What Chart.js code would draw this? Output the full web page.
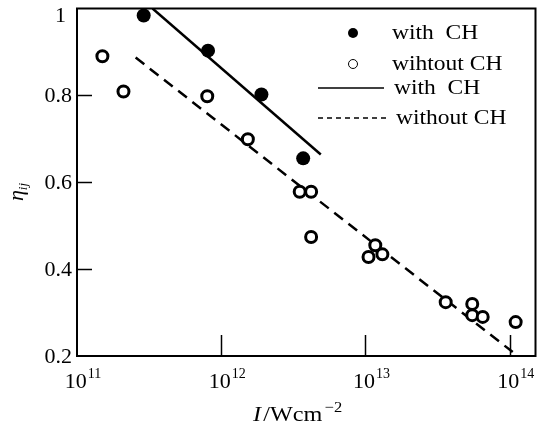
<!DOCTYPE html>
<html><head><meta charset="utf-8">
<script src="https://cdn.jsdelivr.net/npm/chart.js@4/dist/chart.umd.min.js"></script>
<style>html,body{margin:0;padding:0;background:#fff}#wrap{width:544px;height:430px}</style>
</head><body><div id="wrap"><canvas id="c" width="544" height="430"></canvas></div>
<script>
// ---- data ----
const withCH_I = [2.9e11, 8.1e11, 1.9e12, 3.7e12];
const withCH_eta = [0.984, 0.903, 0.802, 0.655];

const withoutCH_I = [1.5e11, 2.1e11, 8.0e11, 1.53e12, 3.5e12, 4.2e12, 4.2e12, 1.05e13, 1.17e13, 1.31e13, 3.6e13, 5.5e13, 5.5e13, 6.5e13, 1.1e14];
const withoutCH_eta = [0.89, 0.809, 0.798, 0.699, 0.578, 0.578, 0.474, 0.428, 0.455, 0.434, 0.324, 0.32, 0.294, 0.29, 0.278];

const fitWith_I = [3.34e11, 4.9e12];
const fitWith_eta = [1.0, 0.664];
const fitWithout_I = [2.55e11, 1.05e14];
const fitWithout_eta = [0.887, 0.209];

const xTickValues = [1e11, 1e12, 1e13, 1e14];
const xTickExponents = ['11', '12', '13', '14'];
const yTickValues = [0.2, 0.4, 0.6, 0.8, 1.0];
const yTickLabels = ['0.2', '0.4', '0.6', '0.8', '1'];

const legendLabels = ['with  CH', 'wihtout CH', 'with  CH', 'without CH'];
const xTitleMain = ['I', '/Wcm'];
const xTitleSup = '\u22122';
const yTitleMain = '\u03B7';
const yTitleSub = 'ij';

const pts = (xs, ys) => xs.map((v, i) => ({x: v, y: ys[i]}));
const SERIF = '"Liberation Serif", "Times New Roman", serif';

const decor = {
  id: 'decor',
  beforeDatasetsDraw(chart) {
    const {ctx, chartArea: a, scales: {x, y}} = chart;
    ctx.save();
    ctx.strokeStyle = '#000';
    ctx.lineWidth = 1.5;
    yTickValues.forEach(v => {
      if (v <= 0.2 || v >= 1) return;
      const py = Math.round(y.getPixelForValue(v)) + 0.5;
      ctx.beginPath(); ctx.moveTo(a.left, py); ctx.lineTo(a.left + 15, py); ctx.stroke();
    });
    xTickValues.forEach(v => {
      const px = Math.round(x.getPixelForValue(v)) + 0.5;
      if (px <= a.left + 2) return;
      ctx.beginPath(); ctx.moveTo(px, a.bottom); ctx.lineTo(px, a.bottom - 21); ctx.stroke();
    });
    ctx.restore();
  },
  afterDraw(chart) {
    const {ctx, chartArea: a, scales: {x, y}} = chart;
    ctx.save();
    // frame
    ctx.strokeStyle = '#000';
    ctx.lineWidth = 2;
    ctx.strokeRect(a.left, a.top, a.right - a.left, a.bottom - a.top);
    ctx.fillStyle = '#000';
    // y tick labels
    ctx.font = '22px ' + SERIF;
    ctx.textAlign = 'right';
    ctx.textBaseline = 'middle';
    yTickValues.forEach((v, i) => {
      const py = y.getPixelForValue(v);
      if (v >= 1) ctx.fillText(yTickLabels[i], a.left - 11, py + 8);
      else ctx.fillText(yTickLabels[i], a.left - 5, py + 1);
    });
    // x tick labels with superscript
    ctx.textAlign = 'left';
    ctx.textBaseline = 'alphabetic';
    xTickValues.forEach((v, i) => {
      const px = x.getPixelForValue(v);
      ctx.font = '22px ' + SERIF;
      const w1 = ctx.measureText('10').width;
      ctx.font = '14px ' + SERIF;
      const w2 = ctx.measureText(xTickExponents[i]).width;
      const left = px + 6 - (w1 + w2 + 1) / 2;
      ctx.font = '22px ' + SERIF;
      ctx.fillText('10', left, a.bottom + 32);
      ctx.font = '14px ' + SERIF;
      ctx.fillText(xTickExponents[i], left + w1 + 1, a.bottom + 22);
    });
    // x title
    ctx.save();
    ctx.translate(253, 421);
    ctx.scale(1.1, 1);
    let cx = 0;
    ctx.font = 'italic 22px ' + SERIF;
    ctx.fillText(xTitleMain[0], cx, 0);
    cx += ctx.measureText(xTitleMain[0]).width + 2;
    ctx.font = '22px ' + SERIF;
    ctx.fillText(xTitleMain[1], cx, 0);
    cx += ctx.measureText(xTitleMain[1]).width + 2;
    ctx.font = '15px ' + SERIF;
    ctx.fillText(xTitleSup, cx, -9);
    ctx.restore();
    // y title (rotated)
    ctx.save();
    ctx.translate(0, 192);
    ctx.rotate(-Math.PI / 2);
    ctx.font = 'italic 22px ' + SERIF;
    const we = ctx.measureText(yTitleMain).width;
    ctx.font = 'italic 13px ' + SERIF;
    const ws = ctx.measureText(yTitleSub).width;
    const sx = -(we + ws) / 2;
    ctx.font = 'italic 22px ' + SERIF;
    ctx.fillText(yTitleMain, sx, 23);
    ctx.font = 'italic 13px ' + SERIF;
    ctx.fillText(yTitleSub, sx + we, 27);
    ctx.restore();
    // legend
    const rows = [33, 64, 88, 118];
    const textX = [392, 392, 394, 396];
    ctx.beginPath(); ctx.arc(353, rows[0], 5, 0, Math.PI * 2); ctx.fill();
    ctx.lineWidth = 1;
    ctx.beginPath(); ctx.arc(353, rows[1], 4.5, 0, Math.PI * 2); ctx.stroke();
    ctx.lineWidth = 1.5;
    ctx.beginPath(); ctx.moveTo(318, rows[2]); ctx.lineTo(384, rows[2]); ctx.stroke();
    ctx.setLineDash([5, 4]);
    ctx.beginPath(); ctx.moveTo(318, rows[3]); ctx.lineTo(389, rows[3]); ctx.stroke();
    ctx.setLineDash([]);
    ctx.font = '21px ' + SERIF;
    ctx.textBaseline = 'middle';
    legendLabels.forEach((t, i) => {
      ctx.save();
      ctx.translate(textX[i], rows[i]);
      ctx.scale(1.12, 1);
      ctx.fillText(t, 0, 0);
      ctx.restore();
    });
    ctx.restore();
  }
};

new Chart(document.getElementById('c'), {
  type: 'scatter',
  data: {
    datasets: [
      {
        label: 'with CH', data: pts(withCH_I, withCH_eta), order: 0,
        pointRadius: 7, pointBackgroundColor: '#000', pointBorderWidth: 0, showLine: false
      },
      {
        label: 'wihtout CH', data: pts(withoutCH_I, withoutCH_eta), order: 0,
        pointRadius: 5.5, pointBackgroundColor: '#fff', pointBorderColor: '#000', pointBorderWidth: 3, showLine: false
      },
      {
        label: 'with CH fit', data: pts(fitWith_I, fitWith_eta), order: 1,
        showLine: true, borderColor: '#000', borderWidth: 2.5, pointRadius: 0
      },
      {
        label: 'without CH fit', data: pts(fitWithout_I, fitWithout_eta), order: 1,
        showLine: true, borderColor: '#000', borderWidth: 2.5, borderDash: [11, 7], pointRadius: 0
      }
    ]
  },
  options: {
    responsive: false,
    devicePixelRatio: 1,
    animation: false,
    layout: {padding: {left: 77, top: 8, right: 5, bottom: 74}},
    plugins: {legend: {display: false}, tooltip: {enabled: false}},
    scales: {
      x: {type: 'logarithmic', min: 1e11, max: 1.51e14, display: false},
      y: {type: 'linear', min: 0.2, max: 1.0, display: false}
    }
  },
  plugins: [decor]
});
</script>
</body></html>
